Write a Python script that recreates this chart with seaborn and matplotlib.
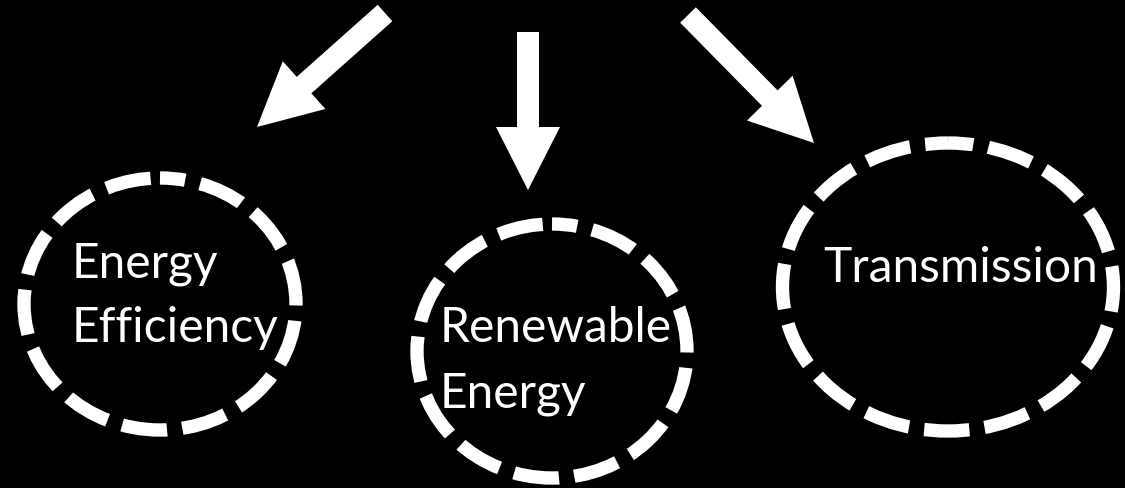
import matplotlib
matplotlib.use("Agg")
import matplotlib.pyplot as plt
from matplotlib.patches import Ellipse, FancyArrow
import seaborn as sns

# node labels, one list of lines per node
labels = [["Energy", "Efficiency"], ["Renewable", "Energy"], ["Transmission"]]

# layout in pixels (y from top)
node_cx = [160, 552, 948]
node_cy = [304, 351, 287]
node_w = [272, 270, 331]
node_h = [252, 254, 288]
text_x = [72, 440, 823]
text_y0 = [277, 342, 282]
line_gap = 65

arrow_tail = [(385, 13), (528, 32), (688, 15)]
arrow_tip = [(257, 127), (528, 190), (814, 143)]

sns.set_theme(style="white")
plt.rcParams["font.family"] = ["Lato", "DejaVu Sans"]

fig = plt.figure(figsize=(11.25, 4.88), dpi=100, facecolor="black")
ax = fig.add_axes([0, 0, 1, 1])
ax.set_facecolor("black")
ax.set_xlim(0, 1125)
ax.set_ylim(488, 0)
ax.axis("off")

# dashed ellipses
for cx, cy, w, h in zip(node_cx, node_cy, node_w, node_h):
    e = Ellipse((cx, cy), w, h, fill=False, ec="white", lw=9.6,
                linestyle=(1.5, (3.4, 1.15)))
    ax.add_patch(e)

# labels
for lines, tx, ty in zip(labels, text_x, text_y0):
    for i, line in enumerate(lines):
        ax.text(tx, ty + i * line_gap, line, color="white", fontsize=34.5,
                fontweight="normal", ha="left", va="baseline")

# arrows
for (x0, y0), (x1, y1) in zip(arrow_tail, arrow_tip):
    ax.add_patch(FancyArrow(x0, y0, x1 - x0, y1 - y0, width=22,
                            head_width=64, head_length=63,
                            length_includes_head=True, color="white", lw=0))

fig.savefig("out.png", dpi=100, facecolor="black")
